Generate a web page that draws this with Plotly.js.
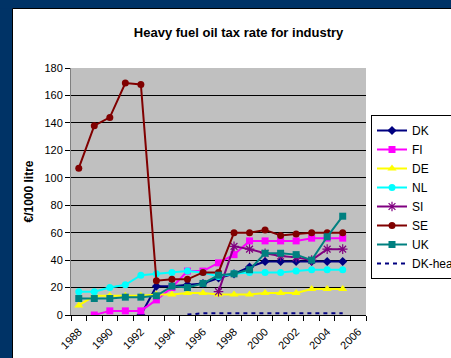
<!DOCTYPE html>
<html>
<head>
<meta charset="utf-8">
<script src="https://cdn.plot.ly/plotly-3.0.1.min.js"></script>
<style>html,body{margin:0;padding:0;background:#fff;}#chart{width:451px;height:358px;}</style>
</head>
<body>
<div id="chart"></div>
<script>
const years = [1988,1989,1990,1991,1992,1993,1994,1995,1996,1997,1998,1999,2000,2001,2002,2003,2004,2005];
const DK  = [null,null,null,null,0,21,21,22,23,27,30,35,39,39,39,39,39,39];
const FI  = [null,0,3,3,3,11,20,32,32,38,44,54,54,54,54,56,56,56];
const DE  = [7,14,14,14,14,15,15,16,16,15,15,15,16,16,16,19,19,19];
const NL  = [17,17,20,22,29,30,31,32,31,28,30,31,31,31,32,33,33,33];
const SI  = [null,null,null,null,null,null,null,null,null,17,50,48,45,43,42,40,48,48];
const SE  = [107,138,144,169,168,25,26,26,31,31,60,60,62,58,59,60,60,60];
const UK  = [12,12,12,13,13,14,21,20,23,29,30,33,45,45,44,40,57,72];
const DKheavy = [null,null,null,null,null,null,null,0.3,1.3,1.3,1.3,1.3,1.3,1.3,1.3,1.3,1.3,1.3];
const seriesNames = ['DK','FI','DE','NL','SI','SE','UK','DK-heavy'];
const tickYears = [1988,1990,1992,1994,1996,1998,2000,2002,2004,2006];
const tickLabels = tickYears.map(String);
const boundaries = [];
for (let i = 0; i <= 19; i++) boundaries.push(1987.5 + i);

const styles = [
  {color:'#000080', symbol:'diamond', size:7},
  {color:'#FF00FF', symbol:'square', size:7},
  {color:'#FFFF00', symbol:'triangle-up', size:8},
  {color:'#00FFFF', symbol:'circle', size:7},
  {color:'#800080', symbol:'asterisk-open', size:8},
  {color:'#800000', symbol:'circle', size:7},
  {color:'#008080', symbol:'square', size:7}
];
const data = [DK, FI, DE, NL, SI, SE, UK];
const traces = data.map((d, i) => ({
  x: years, y: d, name: seriesNames[i], type: 'scatter', mode: 'lines+markers',
  line: {color: styles[i].color, width: 2},
  marker: {color: styles[i].color, symbol: styles[i].symbol, size: styles[i].size,
           line: {color: styles[i].color, width: styles[i].symbol === 'asterisk-open' ? 1.2 : 0}},
  connectgaps: false
}));
traces.push({
  x: years, y: DKheavy, name: seriesNames[7], type: 'scatter', mode: 'lines',
  line: {color: '#000080', width: 2, dash: '4px,4px'}
});

function px2x(p){ return (p - 71) / 295; }
function px2y(p){ return (315 - p) / 247; }

const layout = {
  width: 451, height: 358,
  margin: {l: 71, r: 85, t: 68, b: 43, autoexpand: false},
  paper_bgcolor: '#ffffff',
  plot_bgcolor: '#C0C0C0',
  font: {family: '"Liberation Sans", Arial, sans-serif', size: 11, color: '#000'},
  title: {text: '<b>Heavy fuel oil tax rate for industry</b>', font: {size: 13, color: '#000'},
          xref: 'container', yref: 'container', x: 0.529, xanchor: 'center', y: 1 - 32/358, yanchor: 'middle'},
  xaxis: {
    range: [1987.5, 2006.5], tickmode: 'array', tickvals: boundaries, ticktext: boundaries.map(() => ''),
    ticks: 'outside', ticklen: 5, tickcolor: '#000', showgrid: false, zeroline: false,
    showline: true, linecolor: '#000', linewidth: 1, fixedrange: true
  },
  xaxis2: {
    overlaying: 'x', anchor: 'y', side: 'bottom', range: [1987.5, 2006.5],
    tickmode: 'array', tickvals: tickYears, ticktext: tickLabels, tickangle: -45,
    ticks: 'outside', ticklen: 5, tickcolor: 'rgba(0,0,0,0)', showgrid: false, zeroline: false,
    showline: false, tickfont: {size: 11}, fixedrange: true
  },
  yaxis: {
    range: [0, 180], dtick: 20, tick0: 0, ticks: 'outside', ticklen: 5, tickcolor: '#000',
    showgrid: true, gridcolor: '#000', gridwidth: 1, zeroline: false,
    showline: true, linecolor: '#808080', linewidth: 1, fixedrange: true,
    title: {text: '<b>€/1000 litre</b>', font: {size: 12}, standoff: 8}
  },
  showlegend: true,
  legend: {
    x: px2x(371), xanchor: 'left', y: px2y(115), yanchor: 'top',
    bgcolor: '#ffffff', bordercolor: '#000', borderwidth: 1,
    font: {size: 12}, itemwidth: 30, tracegroupgap: 0
  },
  shapes: [
    {type: 'rect', xref: 'paper', yref: 'paper', x0: px2x(-5), x1: px2x(12.5), y0: px2y(400), y1: px2y(-5),
     fillcolor: '#003366', line: {width: 0}},
    {type: 'rect', xref: 'paper', yref: 'paper', x0: px2x(-5), x1: px2x(460), y0: px2y(8.5), y1: px2y(-5),
     fillcolor: '#003366', line: {width: 0}},
    {type: 'path', xref: 'paper', yref: 'paper',
     path: 'M ' + px2x(12.5) + ' ' + px2y(400) + ' L ' + px2x(12.5) + ' ' + px2y(8.5) + ' L ' + px2x(460) + ' ' + px2y(8.5),
     line: {color: '#000', width: 1}}
  ]
};

// a dummy trace to activate xaxis2 for labels
traces.push({x: [1988], y: [null], xaxis: 'x2', yaxis: 'y', showlegend: false, hoverinfo: 'skip', mode: 'markers'});

Plotly.newPlot('chart', traces, layout, {staticPlot: true, displayModeBar: false});
</script>
</body>
</html>
